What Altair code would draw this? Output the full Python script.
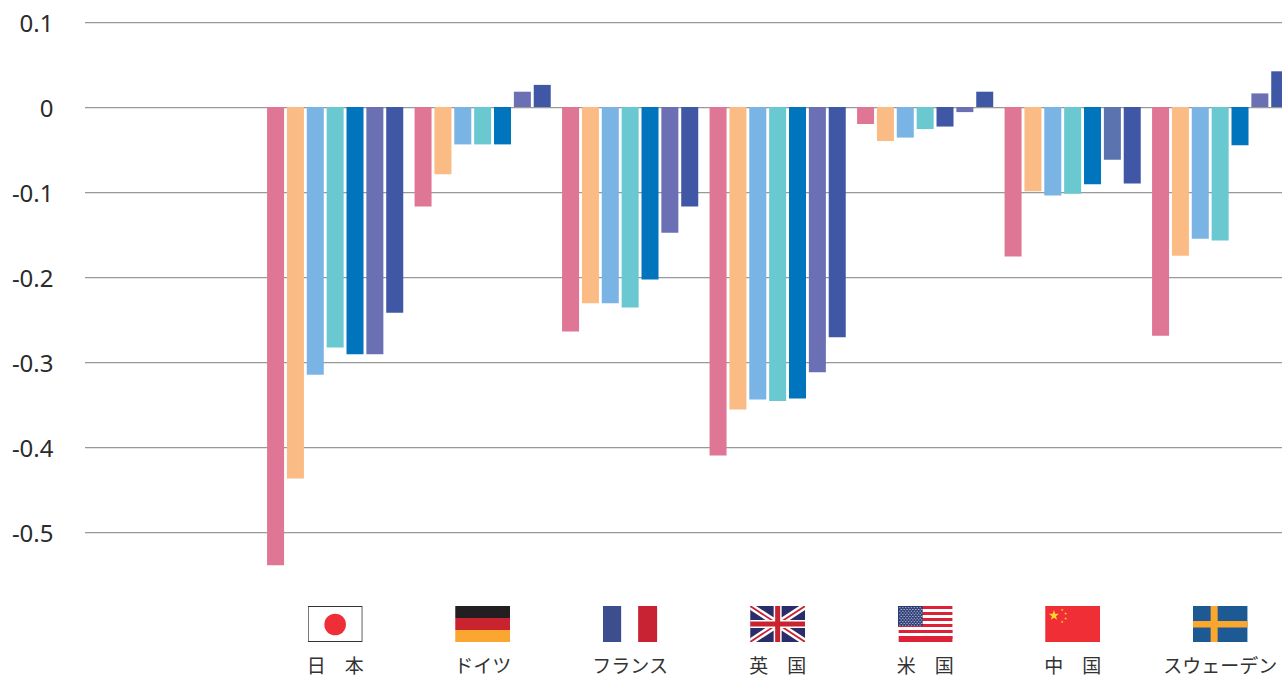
import base64
import math
import altair as alt
import pandas as pd

# Country names as printed under each flag, full-width space in the two-character ones
countries = ["日　本", "ドイツ", "フランス", "英　国", "米　国", "中　国", "スウェーデン"]

japan = [-0.539, -0.437, -0.315, -0.283, -0.291, -0.291, -0.242]
germany = [-0.117, -0.079, -0.044, -0.044, -0.044, 0.018, 0.026]
france = [-0.264, -0.231, -0.231, -0.236, -0.203, -0.148, -0.117]
uk = [-0.410, -0.356, -0.344, -0.346, -0.343, -0.312, -0.271]
usa = [-0.020, -0.040, -0.036, -0.026, -0.023, -0.006, 0.018]
china = [-0.176, -0.099, -0.104, -0.102, -0.091, -0.062, -0.090]
sweden = [-0.269, -0.175, -0.155, -0.157, -0.045, 0.016, 0.042]
series_values = [japan, germany, france, uk, usa, china, sweden]

bar_colors = ["#DF7695", "#FBBB85", "#79B4E5", "#69C8D0", "#0074BD", "#6B6FB3", "#3F57A5"]
# Two bars use a different shade from the rest of their series
color_overrides = {(4, 4): "#3F57A5", (5, 5): "#5B74B0"}

y_ticks = [0.1, 0, -0.1, -0.2, -0.3, -0.4, -0.5]


def svg_uri(body):
    svg = f'<svg xmlns="http://www.w3.org/2000/svg" width="55" height="36" viewBox="0 0 55 36">{body}</svg>'
    return "data:image/svg+xml;base64," + base64.b64encode(svg.encode()).decode()


def star(cx, cy, r, fill):
    pts = []
    for k in range(10):
        rad = r if k % 2 == 0 else r * 0.4
        ang = -math.pi / 2 + k * math.pi / 5
        pts.append(f"{cx + rad * math.cos(ang):.2f},{cy + rad * math.sin(ang):.2f}")
    return f'<polygon points="{" ".join(pts)}" fill="{fill}"/>'


flag_japan = (
    '<rect x="0.5" y="0.5" width="54" height="35" fill="#fff" stroke="#333" stroke-width="1"/>'
    '<circle cx="27.5" cy="18.5" r="10.8" fill="#EF2F38"/>'
)
flag_germany = (
    '<rect width="55" height="12" fill="#231F20"/>'
    '<rect y="12" width="55" height="12" fill="#C8232F"/>'
    '<rect y="24" width="55" height="12" fill="#FBA631"/>'
)
flag_france = (
    '<rect width="18.5" height="36" fill="#3D4E8E"/>'
    '<rect x="35.5" width="19" height="36" fill="#C82333"/>'
)
flag_uk = (
    '<rect width="55" height="36" fill="#2A2D6A"/>'
    '<path d="M0 0L55 36M55 0L0 36" stroke="#fff" stroke-width="6.5"/>'
    '<path d="M0 0L55 36M55 0L0 36" stroke="#C8232F" stroke-width="1.8"/>'
    '<path d="M27.5 0V36M0 18H55" stroke="#fff" stroke-width="8"/>'
    '<path d="M27.5 0V36M0 18H55" stroke="#C8232F" stroke-width="5"/>'
)
stripes = "".join(
    f'<rect x="{1 if i > 3 else 0}" y="{i * 6}" width="55" height="3" fill="#DD2238"/>' for i in range(6)
) + '<rect x="1" y="33" width="54" height="3" fill="#DD2238"/>'
canton_dots = "".join(
    f'<rect x="{1.5 + c * 2.9 + (r % 2) * 1.4:.1f}" y="{1.2 + r * 1.75:.1f}" width="1.4" height="1" fill="#B9BED6"/>'
    for r in range(11) for c in range(8)
)
flag_usa = stripes + '<rect width="25" height="20" fill="#2A3A75"/>' + canton_dots
flag_china = (
    '<rect width="55" height="36" fill="#F02E36"/>'
    + star(8.8, 9.5, 5.4, "#FCD22F")
    + star(17, 4, 1.5, "#FCD22F")
    + star(20.5, 7.5, 1.5, "#FCD22F")
    + star(20.5, 12.5, 1.5, "#FCD22F")
    + star(17, 16, 1.5, "#FCD22F")
)
flag_sweden = (
    '<rect width="55" height="36" fill="#1D5A93"/>'
    '<rect x="18" width="7" height="36" fill="#FBA72E"/>'
    '<rect y="15" width="55" height="6.5" fill="#FBA72E"/>'
)
flags = [flag_japan, flag_germany, flag_france, flag_uk, flag_usa, flag_china, flag_sweden]

bars = pd.DataFrame(
    [
        {
            "country": country,
            "series": s,
            "value": v,
            "fill": color_overrides.get((c, s), bar_colors[s]),
        }
        for c, (country, vals) in enumerate(zip(countries, series_values))
        for s, v in enumerate(vals)
    ]
)
flag_table = pd.DataFrame({"country": countries, "url": [svg_uri(f) for f in flags]})
tick_table = pd.DataFrame({"tick": y_ticks})

x_scale = alt.Scale(domain=countries, range=[176.4, 1208.9], round=False, paddingInner=0, paddingOuter=0)
y_scale = alt.Scale(domain=[-0.55, 0.1], nice=False)
x_axis = alt.Axis(
    title=None,
    domain=False,
    ticks=False,
    grid=False,
    labelAngle=0,
    labelFont="Noto Sans CJK JP",
    labelFontSize=19,
    labelColor="#333333",
    labelPadding=83,
    labelOverlap=False,
    labelFlush=False,
)
y_axis = alt.Axis(
    title=None,
    values=y_ticks,
    domain=False,
    ticks=False,
    grid=False,
    labelFont="Noto Sans",
    labelFontSize=24,
    labelColor="#2B2B2B",
    labelPadding=32,
    labelOffset=2.5,
    labelExpr="replace(format(datum.value, '.1~f'), '−', '-')",
)

# Horizontal gridlines run the full width of the plot, with a faint shadow row under each
grid_shadow = (
    alt.Chart(tick_table)
    .mark_rule(color="#E4E4E4", strokeWidth=1, yOffset=1.5)
    .encode(y=alt.Y("tick:Q", scale=y_scale, axis=y_axis), x=alt.value(0), x2=alt.value(1197))
)
grid_line = (
    alt.Chart(tick_table)
    .mark_rule(color="#999999", strokeWidth=1, yOffset=0.5)
    .encode(y=alt.Y("tick:Q", scale=y_scale, axis=y_axis), x=alt.value(0), x2=alt.value(1197))
)

bar_layer = (
    alt.Chart(bars)
    .mark_bar(clip=False)
    .encode(
        x=alt.X("country:N", sort=countries, scale=x_scale, axis=x_axis),
        xOffset=alt.XOffset(
            "series:O",
            scale=alt.Scale(paddingInner=0.144, paddingOuter=0.285, round=False),
        ),
        y=alt.Y("value:Q", scale=y_scale, axis=y_axis),
        fill=alt.Fill("fill:N", scale=None),
    )
)

flag_layer = (
    alt.Chart(flag_table)
    .mark_image(width=55, height=36, clip=False)
    .encode(
        x=alt.X("country:N", sort=countries, scale=x_scale, axis=x_axis),
        y=alt.value(602),
        url="url:N",
    )
)

chart = (
    alt.layer(grid_shadow, grid_line, bar_layer, flag_layer)
    .properties(
        width=1197,
        height=552.5,
        padding={"left": 85, "top": 22, "right": 0, "bottom": 102.5},
        autosize=alt.AutoSizeParams(type="none"),
        background="#ffffff",
    )
    .configure_view(stroke=None)
)

chart.save("out.html", embed_options={"renderer": "svg", "actions": False})
